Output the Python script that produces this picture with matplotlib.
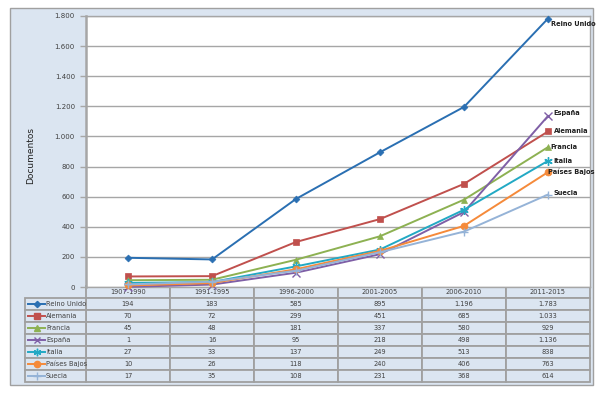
import matplotlib
matplotlib.use("Agg")
import matplotlib.pyplot as plt
from matplotlib.patches import Rectangle
from matplotlib.lines import Line2D
from matplotlib.transforms import blended_transform_factory

periods = ["1907-1990", "1991-1995", "1996-2000", "2001-2005", "2006-2010", "2011-2015"]
countries = ["Reino Unido", "Alemania", "Francia", "España", "Italia", "Países Bajos", "Suecia"]
reino_unido = [194, 183, 585, 895, 1196, 1783]
alemania = [70, 72, 299, 451, 685, 1033]
francia = [45, 48, 181, 337, 580, 929]
espana = [1, 16, 95, 218, 498, 1136]
italia = [27, 33, 137, 249, 513, 838]
paises_bajos = [10, 26, 118, 240, 406, 763]
suecia = [17, 35, 108, 231, 368, 614]
series = [reino_unido, alemania, francia, espana, italia, paises_bajos, suecia]
yticks = [0, 200, 400, 600, 800, 1000, 1200, 1400, 1600, 1800]

colors = ["#2a6fb2", "#c0504d", "#8db152", "#7f5fa6", "#22a9c4", "#f58a3a", "#95b3d7"]
markers = ["D", "s", "^", "x", (6, 2, 0), "o", "+"]
msizes = [3.5, 5, 5, 5.5, 6, 5, 6]
label_off = [(2, -4), (4, 0), (2, 0), (4, 2), (4, 0), (0, 0), (4, 1)]

W, H = 604, 395
fig = plt.figure(figsize=(W / 100, H / 100), dpi=100)
fig.patch.set_facecolor("white")

def fx(px):
    return px / W

def fy(py):
    return 1 - py / H

panel_bg = "#dbe5f1"
grid_c = "#a6a6a6"
txt_c = "#404040"

panel = Rectangle((fx(10), fy(385)), fx(593 - 10), (385 - 8) / H,
                  transform=fig.transFigure, fc=panel_bg, ec="#a0a0a0", lw=1, zorder=-10)
fig.add_artist(panel)

ax = fig.add_axes([fx(86), fy(287), fx(590 - 86), (287 - 16) / H])
ax.set_zorder(5)
ax.set_facecolor("white")
ax.set_xlim(-0.5, 5.5)
ax.set_ylim(0, 1800)
ax.set_yticks(yticks)
ax.set_yticklabels([f"{v:,}".replace(",", ".") for v in yticks], fontsize=5, color=txt_c)
ax.tick_params(axis="y", length=4, width=1, color=grid_c, pad=4)
ax.set_xticks([])
ax.grid(axis="y", color=grid_c, lw=1)
ax.set_axisbelow(True)
for s in ["top", "right", "bottom"]:
    ax.spines[s].set_color(grid_c)
    ax.spines[s].set_linewidth(1)
ax.spines["left"].set_color(grid_c)
ax.spines["left"].set_linewidth(1.8)
ax.set_ylabel("Documentos", fontsize=6.5, color="#202020")
ax.yaxis.set_label_coords((35 - 86) / 504, (287 - 155) / 271)

xs = list(range(len(periods)))
for name, vals, c, m, ms, off in zip(countries, series, colors, markers, msizes, label_off):
    ax.plot(xs, vals, color=c, lw=1.4, marker=m, ms=ms, mew=1.0 if m in ("x", "+") or isinstance(m, tuple) else 0.5,
            mec=c, mfc=c, clip_on=False, zorder=3)
    ax.annotate(name, (xs[-1], vals[-1]), xytext=off, textcoords="offset points",
                fontsize=4.8, color="#202020", ha="left", va="center", fontweight="bold")

# data table below the plot
tr = blended_transform_factory(ax.transData, fig.transFigure)
top, rh = 286, 12
border = "#a0a0a0"
for r in range(len(countries) + 1):
    y0 = top + r * rh
    for i, p in enumerate(periods):
        fig.add_artist(Rectangle((i - 0.5, fy(y0 + rh)), 1, rh / H, transform=tr,
                                 fc=panel_bg, ec=border, lw=1.3, zorder=1))
        txt = p if r == 0 else f"{series[r - 1][i]:,}".replace(",", ".")
        fig.text(i, fy(y0 + rh / 2), txt, transform=tr, ha="center", va="center",
                 fontsize=4.8, color=txt_c, zorder=2)
    if r > 0:
        fig.add_artist(Rectangle((fx(25), fy(y0 + rh)), fx(86 - 25), rh / H,
                                 transform=fig.transFigure, fc=panel_bg, ec=border, lw=1.3, zorder=1))
        k = r - 1
        m = markers[k]
        fig.add_artist(Line2D([fx(28), fx(45)], [fy(y0 + rh / 2)] * 2, transform=fig.transFigure,
                              color=colors[k], lw=1.4, zorder=2))
        fig.add_artist(Line2D([fx(36.5)], [fy(y0 + rh / 2)], transform=fig.transFigure,
                              color=colors[k], marker=m, ms=msizes[k] * 0.9, mfc=colors[k], mec=colors[k],
                              mew=1.0, lw=0, zorder=2))
        fig.text(fx(46), fy(y0 + rh / 2), countries[k], ha="left", va="center",
                 fontsize=4.8, color=txt_c, zorder=2)

fig.savefig("out.png", dpi=100, facecolor="white")
